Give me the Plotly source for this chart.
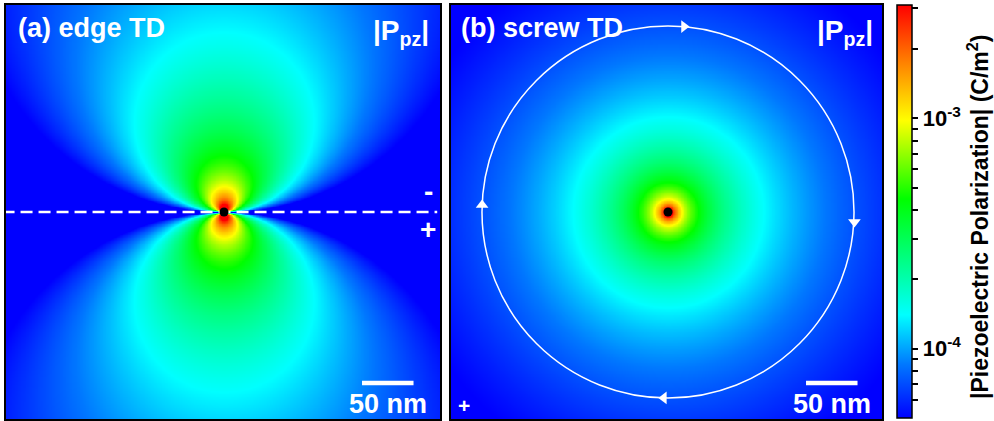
import numpy as np
import plotly.graph_objects as go

# ---------------- data ----------------
# field models: |P_pz| = A*|y|/r^2 for the edge TD, B/r for the screw TD (r in nm, P in C/m^2)
EDGE_AMPLITUDE = 0.0245
SCREW_AMPLITUDE = 0.013
CBAR_MIN = 5.0e-5
CBAR_MAX = 3.1e-3
major_ticks = [1e-4, 1e-3]
major_labels = ["<b>10<sup>-4</sup></b>", "<b>10<sup>-3</sup></b>"]
minor_ticks = [6e-5, 7e-5, 8e-5, 9e-5, 2e-4, 3e-4, 4e-4, 5e-4, 6e-4, 7e-4, 8e-4, 9e-4, 2e-3, 3e-3]
colour_stops = [0.0, 0.13, 0.25, 0.34, 0.53, 0.72, 0.86, 1.0]
colour_values = ["rgb(0,0,255)", "rgb(0,120,255)", "rgb(0,255,255)", "rgb(0,255,170)",
                 "rgb(0,255,0)", "rgb(255,255,0)", "rgb(255,130,0)", "rgb(255,0,0)"]
burgers_circle_radius = 180.6          # nm
arrow_x = [15.5, 181.0, -4.0, -180.5]  # nm, positions of the circulation arrows
arrow_y = [180.0, -9.7, -180.5, 6.8]
arrow_symbols = ["triangle-right", "triangle-down", "triangle-left", "triangle-up"]
scale_bar_x = [134.0, 184.0]           # 50 nm
scale_bar_y = [-166.0, -166.0]
core_x = [0.0]
core_y = [0.0]
glide_x = [-215.0, 207.0]
glide_y = [0.0, 0.0]

# ---------------- geometry ----------------
W, H = 994, 421
S = 1.03  # px per nm
ax_px = (6, 440)
bx_px = (451, 882)
y_px = (5, 419)
ca, cb, cy = 224, 668, 212
xa_rng = [(ax_px[0] - ca) / S, (ax_px[1] - ca) / S]
xb_rng = [(bx_px[0] - cb) / S, (bx_px[1] - cb) / S]
y_rng = [(cy - y_px[1]) / S, (cy - y_px[0]) / S]

def grid(xr, yr, step=1.5):
    xs = np.arange(xr[0], xr[1] + step, step)
    ys = np.arange(yr[0], yr[1] + step, step)
    X, Y = np.meshgrid(xs, ys)
    return xs, ys, X, Y

zmin, zmax = np.log10(CBAR_MIN), np.log10(CBAR_MAX)

xs_a, ys_a, Xa, Ya = grid(xa_rng, y_rng)
with np.errstate(divide="ignore", invalid="ignore"):
    Pa = EDGE_AMPLITUDE * np.abs(Ya) / (Xa ** 2 + Ya ** 2)
    za = np.log10(np.where(Pa > 0, Pa, CBAR_MIN * 0.5))
za = np.round(np.clip(np.nan_to_num(za, nan=zmax), zmin - 0.05, zmax + 0.05), 3)

xs_b, ys_b, Xb, Yb = grid(xb_rng, y_rng)
with np.errstate(divide="ignore"):
    Pb = SCREW_AMPLITUDE / np.sqrt(Xb ** 2 + Yb ** 2)
    zb = np.log10(Pb)
zb = np.round(np.clip(np.nan_to_num(zb, posinf=zmax), zmin - 0.05, zmax + 0.05), 3)

colorscale = [[s, c] for s, c in zip(colour_stops, colour_values)]

tickvals = [np.log10(v) for v in major_ticks] + [np.log10(v) for v in minor_ticks]
ticktext = major_labels + [" "] * len(minor_ticks)

fig = go.Figure()
fig.add_trace(go.Heatmap(x=xs_a, y=ys_a, z=za, coloraxis="coloraxis", zsmooth="best",
                         xaxis="x", yaxis="y", hoverinfo="skip"))
fig.add_trace(go.Heatmap(x=xs_b, y=ys_b, z=zb, coloraxis="coloraxis", zsmooth="best",
                         xaxis="x2", yaxis="y2", hoverinfo="skip"))

# glide plane (dashed) in panel a
fig.add_trace(go.Scatter(x=glide_x, y=glide_y, mode="lines", xaxis="x", yaxis="y",
                         line=dict(color="white", width=2.5, dash="12px,6px"),
                         showlegend=False, hoverinfo="skip"))
# arrows on the Burgers circuit, panel b
fig.add_trace(go.Scatter(x=arrow_x, y=arrow_y, mode="markers", xaxis="x2", yaxis="y2",
                         marker=dict(symbol=arrow_symbols, size=11, color="white"),
                         showlegend=False, hoverinfo="skip"))
# scale bars and dislocation cores
for xa_, ya_ in (("x", "y"), ("x2", "y2")):
    fig.add_trace(go.Scatter(x=scale_bar_x, y=scale_bar_y, mode="lines", xaxis=xa_, yaxis=ya_,
                             line=dict(color="white", width=4.5),
                             showlegend=False, hoverinfo="skip"))
    fig.add_trace(go.Scatter(x=core_x, y=core_y, mode="markers", xaxis=xa_, yaxis=ya_,
                             marker=dict(size=9, color="black"),
                             showlegend=False, hoverinfo="skip"))

fig.add_shape(type="circle", xref="x2", yref="y2",
              x0=-burgers_circle_radius, x1=burgers_circle_radius,
              y0=-burgers_circle_radius, y1=burgers_circle_radius,
              line=dict(color="white", width=1.5), layer="above")

FONT = "Liberation Sans, Arial, sans-serif"

def px_ann(text, x, y, size, xanchor="center", angle=0, color="white"):
    fig.add_annotation(text=text, x=x / W, y=1 - y / H, xref="paper", yref="paper",
                       xanchor=xanchor, yanchor="middle", showarrow=False, textangle=angle,
                       font=dict(family=FONT, size=size, color=color, weight="bold"))

px_ann("(a) edge TD", 16, 28, 27, xanchor="left")
px_ann("(b) screw TD", 459, 28, 27, xanchor="left")
px_ann("|P<sub>pz</sub>|", 431, 32, 28, xanchor="right")
px_ann("|P<sub>pz</sub>|", 875, 32, 28, xanchor="right")
px_ann("-", 428, 192, 28)
px_ann("+", 428, 229, 28)
px_ann("+", 464, 405, 21)
px_ann("50 nm", 388, 404, 27)
px_ann("50 nm", 832, 404, 27)
px_ann("|Piezoelectric Polarization| (C/m<sup>2</sup>)", 978, 217, 23, angle=-90, color="black")

axis_common = dict(showticklabels=False, showgrid=False, zeroline=False, ticks="",
                   showline=True, mirror=True, linecolor="black", linewidth=2)

fig.update_layout(
    width=W, height=H, margin=dict(l=0, r=0, t=0, b=0),
    paper_bgcolor="white", plot_bgcolor="white", showlegend=False,
    xaxis=dict(domain=[ax_px[0] / W, ax_px[1] / W], range=xa_rng, **axis_common),
    yaxis=dict(domain=[1 - y_px[1] / H, 1 - y_px[0] / H], range=y_rng, **axis_common),
    xaxis2=dict(domain=[bx_px[0] / W, bx_px[1] / W], range=xb_rng, anchor="y2", **axis_common),
    yaxis2=dict(domain=[1 - y_px[1] / H, 1 - y_px[0] / H], range=y_rng, anchor="x2", **axis_common),
    coloraxis=dict(
        cmin=zmin, cmax=zmax, colorscale=colorscale,
        colorbar=dict(
            x=897 / W, xanchor="left", thickness=15, thicknessmode="pixels",
            len=413 / H, lenmode="fraction", y=1 - 211.5 / H, yanchor="middle",
            outlinewidth=1.5, outlinecolor="black", xpad=0, ypad=0,
            tickmode="array", tickvals=tickvals, ticktext=ticktext,
            ticks="outside", ticklen=6, tickwidth=1.5, tickcolor="black",
            tickfont=dict(family=FONT, size=22, color="black"),
        ),
    ),
)

fig.write_html("out.html")
